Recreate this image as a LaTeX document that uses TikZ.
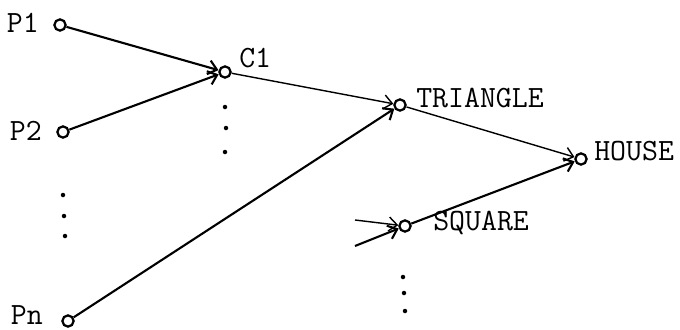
\documentclass[tikz,border=0pt]{standalone}
\usetikzlibrary{arrows.meta}
\begin{document}
\begin{tikzpicture}[x=0.025cm, y=-0.025cm,
  vtx/.style={circle, draw, line width=1.6pt, inner sep=0pt, minimum size=8pt},
  lbl/.style={font=\fontsize{22}{26}\selectfont\ttfamily, inner sep=0pt},
  arc/.style={line width=1.5pt, -{Straight Barb[length=6pt,width=10pt]}},
  thinarc/.style={arc, line width=1pt},
]
  \useasboundingbox (0,0) rectangle (680,330);
  % units
  \node[vtx] (P1) at (60,25) {};
  \node[vtx] (P2) at (63,132) {};
  \node[vtx] (Pn) at (68,321) {};
  \node[vtx] (C1) at (225,72) {};
  \node[vtx] (T)  at (400,105) {};
  \node[vtx] (S)  at (405,226) {};
  \node[vtx] (H)  at (581,159) {};
  \coordinate (s1) at (355,220);
  \coordinate (s2) at (355,246);
  % labels
  \node[lbl, anchor=east] (lP1) at (39,23)  {P1};
  \node[lbl, anchor=east] (lP2) at (42,131) {P2};
  \node[lbl, anchor=east] (lPn) at (43,315) {Pn};
  \node[lbl, anchor=west] (lC1) at (239,58)  {C1};
  \node[lbl, anchor=west] (lT)  at (416,98)  {TRIANGLE};
  \node[lbl, anchor=west] (lH)  at (594,151) {HOUSE};
  \node[lbl, anchor=west] (lS)  at (433,223) {SQUARE};
  % connections
  \draw[arc] (P1) -- (C1);
  \draw[arc] (P2) -- (C1);
  \draw[thinarc] (C1) -- (T);
  \draw[arc] (Pn) -- (T);
  \draw[thinarc] (T) -- (H);
  \draw[arc] (S) -- (H);
  \draw[thinarc] (s1) -- (S);
  \draw[arc] (s2) -- (S);
  % dots
  \foreach \x/\y in {63/195, 64/216, 65/236, 225/107, 226/128, 225/152, 403/277, 404/293, 405/311}
    \fill (\x,\y) circle (1.6pt);
\end{tikzpicture}
\end{document}
